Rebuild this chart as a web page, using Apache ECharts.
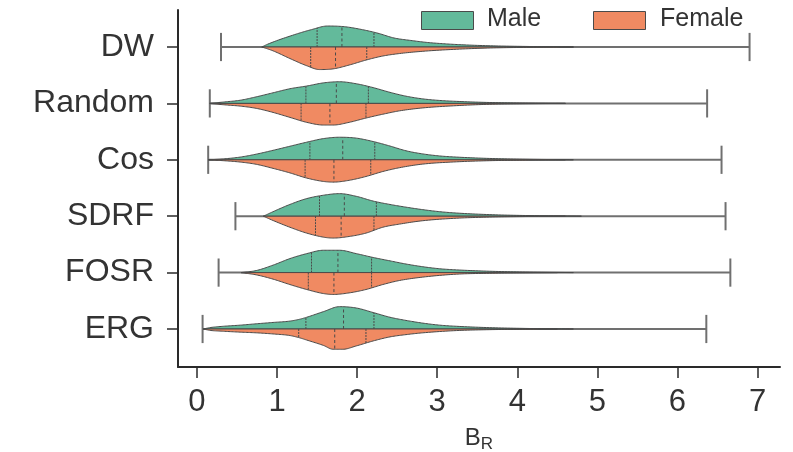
<!DOCTYPE html>
<html>
<head>
<meta charset="utf-8">
<script src="https://cdn.jsdelivr.net/npm/echarts@6/dist/echarts.min.js"></script>
<style>html,body{margin:0;padding:0;background:#fff}#c{width:793px;height:452px}</style>
</head>
<body>
<div id="c"></div>
<script>
// ---------- data ----------
const categories = ['DW', 'Random', 'Cos', 'SDRF', 'FOSR', 'ERG'];
const xTicks = [0, 1, 2, 3, 4, 5, 6, 7];
const seriesNames = ['Male', 'Female'];

// whisker extent (min, max) per category
const whiskerMin = [0.30, 0.16, 0.14, 0.48, 0.27, 0.07];
const whiskerMax = [6.90, 6.37, 6.55, 6.60, 6.66, 6.36];

// quartiles [Q1, median, Q3]
const maleQuartiles   = [[1.50,1.81,2.21],[1.36,1.74,2.14],[1.41,1.82,2.22],[1.53,1.84,2.24],[1.43,1.76,2.18],[1.36,1.83,2.21]];
const femaleQuartiles = [[1.42,1.73,2.12],[1.30,1.66,2.11],[1.35,1.71,2.17],[1.48,1.80,2.21],[1.39,1.71,2.18],[1.27,1.72,2.11]];

// density outlines [B_R, relative density] (1 = widest)
const maleDW = [[0.81,0],[0.88,0.12],[1.22,0.55],[1.43,0.77],[1.63,0.93],[1.84,0.90],[2.05,0.78],[2.26,0.61],[2.46,0.40],[2.67,0.29],[2.88,0.20],[3.10,0.14],[3.30,0.10],[3.70,0.05],[4.10,0.025],[4.70,0]];
const femaleDW = [[0.81,0],[0.95,0.17],[1.16,0.51],[1.37,0.83],[1.53,1.0],[1.70,0.97],[1.90,0.80],[2.11,0.58],[2.32,0.40],[2.53,0.29],[2.82,0.19],[3.24,0.10],[3.70,0.04],[4.20,0.015],[4.70,0]];
const maleRandom = [[0.16,0],[0.33,0.06],[0.54,0.14],[0.74,0.29],[0.95,0.47],[1.16,0.65],[1.37,0.77],[1.58,0.91],[1.78,0.96],[1.99,0.87],[2.20,0.70],[2.41,0.49],[2.61,0.32],[2.82,0.20],[3.03,0.13],[3.24,0.09],[3.65,0.04],[4.10,0.015],[4.60,0]];
const femaleRandom = [[0.16,0],[0.33,0.06],[0.54,0.12],[0.74,0.22],[0.95,0.40],[1.16,0.62],[1.37,0.84],[1.58,0.96],[1.70,0.96],[1.90,0.84],[2.11,0.65],[2.32,0.48],[2.53,0.33],[2.82,0.20],[3.24,0.10],[3.65,0.04],[4.10,0.015],[4.60,0]];
const maleCos = [[0.14,0],[0.33,0.04],[0.54,0.12],[0.74,0.25],[0.95,0.42],[1.16,0.60],[1.37,0.78],[1.58,0.94],[1.78,1.0],[1.99,0.96],[2.20,0.81],[2.41,0.61],[2.61,0.40],[2.82,0.26],[3.03,0.17],[3.24,0.12],[3.65,0.06],[4.10,0.025],[4.70,0]];
const femaleCos = [[0.14,0],[0.33,0.04],[0.54,0.10],[0.74,0.20],[0.95,0.38],[1.16,0.58],[1.37,0.81],[1.58,0.96],[1.70,0.99],[1.90,0.91],[2.11,0.74],[2.32,0.52],[2.53,0.35],[2.82,0.19],[3.24,0.09],[3.65,0.04],[4.10,0.015],[4.60,0]];
const maleSDRF = [[0.83,0],[0.95,0.20],[1.16,0.52],[1.37,0.78],[1.58,0.93],[1.78,1.0],[1.99,0.88],[2.20,0.67],[2.41,0.52],[2.61,0.40],[2.82,0.29],[3.03,0.20],[3.24,0.14],[3.65,0.07],[4.10,0.03],[4.80,0]];
const femaleSDRF = [[0.83,0],[0.91,0.13],[1.16,0.49],[1.37,0.75],[1.58,0.93],[1.70,0.97],[1.90,0.90],[2.11,0.75],[2.32,0.49],[2.53,0.35],[2.82,0.20],[3.24,0.09],[3.65,0.04],[4.10,0.015],[4.60,0]];
const maleFOSR = [[0.55,0],[0.74,0.09],[0.95,0.33],[1.16,0.62],[1.37,0.84],[1.58,0.99],[1.78,0.99],[1.99,0.84],[2.20,0.67],[2.41,0.52],[2.61,0.38],[2.82,0.26],[3.03,0.17],[3.24,0.12],[3.65,0.06],[4.10,0.025],[4.70,0]];
const femaleFOSR = [[0.55,0],[0.74,0.10],[0.95,0.29],[1.16,0.53],[1.37,0.75],[1.58,0.93],[1.70,0.97],[1.90,0.90],[2.11,0.75],[2.32,0.53],[2.53,0.35],[2.82,0.20],[3.24,0.07],[3.65,0.03],[4.10,0.01],[4.50,0]];
const maleERG = [[0.08,0],[0.16,0.06],[0.33,0.12],[0.54,0.17],[0.74,0.23],[0.95,0.29],[1.16,0.35],[1.28,0.43],[1.37,0.52],[1.58,0.77],[1.78,0.99],[1.99,0.93],[2.20,0.73],[2.41,0.52],[2.61,0.38],[2.82,0.26],[3.03,0.17],[3.24,0.12],[3.65,0.06],[4.10,0.025],[4.70,0]];
const femaleERG = [[0.08,0],[0.16,0.06],[0.33,0.10],[0.54,0.14],[0.74,0.17],[0.95,0.22],[1.16,0.29],[1.28,0.39],[1.37,0.49],[1.58,0.73],[1.70,0.90],[1.82,0.90],[1.99,0.75],[2.20,0.53],[2.41,0.35],[2.61,0.25],[2.82,0.17],[3.24,0.07],[3.65,0.03],[4.10,0.01],[4.50,0]];

const maleProfiles = [maleDW, maleRandom, maleCos, maleSDRF, maleFOSR, maleERG];
const femaleProfiles = [femaleDW, femaleRandom, femaleCos, femaleSDRF, femaleFOSR, femaleERG];

// ---------- styling ----------
const MALE_COLOR = '#63ba9b';
const FEMALE_COLOR = '#f08a62';
const EDGE = '#4a4a4a';
const WHISKER = '#707070';
const AXIS = '#2a2a2a';
const TEXT = '#333333';
const FONT = '"Liberation Sans", Arial, sans-serif';
const HALF = 0.4;      // half violin width (category units)
const CAP = 0.25;      // whisker cap half-height

// monotone cubic interpolation (rendering helper)
function interp(pts) {
  const n = pts.length, xs = pts.map(p => p[0]), ys = pts.map(p => p[1]);
  const d = [], m = new Array(n);
  for (let i = 0; i < n - 1; i++) d.push((ys[i + 1] - ys[i]) / (xs[i + 1] - xs[i]));
  m[0] = d[0]; m[n - 1] = d[n - 2];
  for (let i = 1; i < n - 1; i++) m[i] = (d[i - 1] * d[i] <= 0) ? 0 : (d[i - 1] + d[i]) / 2;
  for (let i = 0; i < n - 1; i++) {
    if (d[i] === 0) { m[i] = 0; m[i + 1] = 0; continue; }
    const a = m[i] / d[i], b = m[i + 1] / d[i], s = a * a + b * b;
    if (s > 9) { const t = 3 / Math.sqrt(s); m[i] = t * a * d[i]; m[i + 1] = t * b * d[i]; }
  }
  return function (x) {
    if (x <= xs[0]) return ys[0];
    if (x >= xs[n - 1]) return ys[n - 1];
    let k = 0; while (x > xs[k + 1]) k++;
    const h = xs[k + 1] - xs[k], t = (x - xs[k]) / h;
    const t2 = t * t, t3 = t2 * t;
    return (2 * t3 - 3 * t2 + 1) * ys[k] + (t3 - 2 * t2 + t) * h * m[k] + (-2 * t3 + 3 * t2) * ys[k + 1] + (t3 - t2) * h * m[k + 1];
  };
}

function violinRender(profiles, quarts, sign, color) {
  return function (params, api) {
    const i = params.dataIndex;
    const prof = profiles[i];
    const f = interp(prof);
    const pts = [];
    for (let k = 0; k < prof.length - 1; k++) {
      const x0 = prof[k][0], x1 = prof[k + 1][0];
      for (let s = 0; s < 12; s++) {
        const x = x0 + (x1 - x0) * s / 12;
        pts.push(api.coord([x, i + sign * Math.max(0, f(x)) * HALF]));
      }
    }
    const last = prof[prof.length - 1];
    pts.push(api.coord([last[0], i]));
    const children = [{
      type: 'polygon', shape: { points: pts },
      style: { fill: color, stroke: EDGE, lineWidth: 1, lineJoin: 'round' }
    }];
    quarts[i].forEach((q, j) => {
      const a = api.coord([q, i]);
      const b = api.coord([q, i + sign * Math.max(0, f(q)) * HALF]);
      children.push({
        type: 'line', shape: { x1: a[0], y1: a[1], x2: b[0], y2: b[1] },
        style: { stroke: EDGE, lineWidth: 1, lineDash: j === 1 ? [3, 2.5] : [2, 1] }
      });
    });
    return { type: 'group', children };
  };
}

function whiskerRender(params, api) {
  const i = params.dataIndex;
  const a = api.coord([whiskerMin[i], i]);
  const b = api.coord([whiskerMax[i], i]);
  const a1 = api.coord([whiskerMin[i], i - CAP]), a2 = api.coord([whiskerMin[i], i + CAP]);
  const b1 = api.coord([whiskerMax[i], i - CAP]), b2 = api.coord([whiskerMax[i], i + CAP]);
  const st = { stroke: WHISKER, lineWidth: 2 };
  return {
    type: 'group', children: [
      { type: 'line', shape: { x1: a[0], y1: a[1], x2: b[0], y2: b[1] }, style: st },
      { type: 'line', shape: { x1: a1[0], y1: a1[1], x2: a2[0], y2: a2[1] }, style: st },
      { type: 'line', shape: { x1: b1[0], y1: b1[1], x2: b2[0], y2: b2[1] }, style: st }
    ]
  };
}

const catData = categories.map((c, i) => [0, i]);
const chart = echarts.init(document.getElementById('c'), null, { renderer: 'canvas' });

chart.setOption({
  animation: false,
  backgroundColor: '#ffffff',
  grid: { left: 178, right: 13, top: 10, bottom: 85, containLabel: false, outerBoundsMode: 'none' },
  xAxis: {
    type: 'value', min: -0.237, max: 7.28,
    axisLine: { show: true, onZero: false, lineStyle: { color: AXIS, width: 2 } },
    axisTick: { show: true, customValues: xTicks, length: 11, lineStyle: { color: AXIS, width: 1.5 } },
    axisLabel: { customValues: xTicks, fontSize: 31, color: TEXT, fontFamily: FONT, margin: 20 },
    splitLine: { show: false },
    name: '{b|B}{r|R}', nameLocation: 'middle', nameGap: 57,
    nameTextStyle: {
      rich: {
        b: { fontSize: 24, color: TEXT, fontFamily: FONT },
        r: { fontSize: 17, color: TEXT, fontFamily: FONT, verticalAlign: 'bottom', padding: [12, 0, 0, 0] }
      }
    }
  },
  yAxis: {
    type: 'value', inverse: true, min: -0.656, max: 5.674,
    axisLine: { show: true, onZero: false, lineStyle: { color: AXIS, width: 2 } },
    axisTick: { show: true, customValues: [0, 1, 2, 3, 4, 5], length: 11, lineStyle: { color: AXIS, width: 1.5 } },
    axisLabel: {
      customValues: [0, 1, 2, 3, 4, 5], fontSize: 32, color: TEXT, fontFamily: FONT, margin: 24,
      formatter: v => categories[Math.round(v)]
    },
    splitLine: { show: false }
  },
  series: [
    { type: 'custom', name: 'whisker', renderItem: whiskerRender, data: catData, z: 1, silent: true },
    { type: 'custom', name: seriesNames[0], renderItem: violinRender(maleProfiles, maleQuartiles, -1, MALE_COLOR), data: catData, z: 2, silent: true },
    { type: 'custom', name: seriesNames[1], renderItem: violinRender(femaleProfiles, femaleQuartiles, 1, FEMALE_COLOR), data: catData, z: 2, silent: true }
  ],
  graphic: [
    { type: 'rect', left: 421, top: 11, shape: { width: 52, height: 18 }, style: { fill: MALE_COLOR, stroke: EDGE, lineWidth: 1 }, z: 10 },
    { type: 'text', left: 487, top: 7, style: { text: seriesNames[0], font: '25px ' + FONT, fill: TEXT }, z: 10 },
    { type: 'rect', left: 593, top: 11, shape: { width: 52, height: 18 }, style: { fill: FEMALE_COLOR, stroke: EDGE, lineWidth: 1 }, z: 10 },
    { type: 'text', left: 660, top: 7, style: { text: seriesNames[1], font: '25px ' + FONT, fill: TEXT }, z: 10 }
  ]
});
</script>
</body>
</html>
